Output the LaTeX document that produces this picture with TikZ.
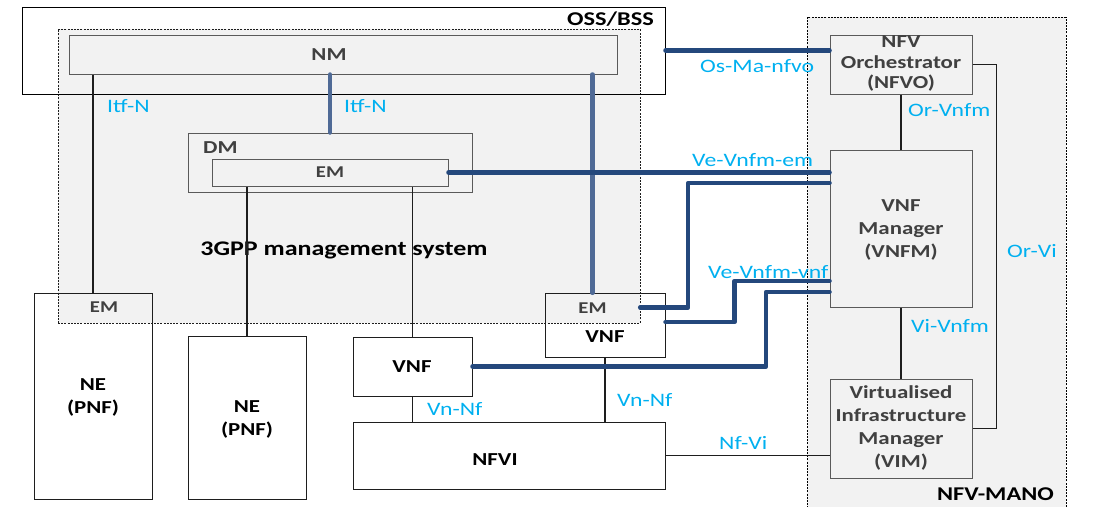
\documentclass[tikz,border=0pt]{standalone}
\usepackage{fontspec}
\setmainfont{Carlito}[FakeStretch=1.25]
\definecolor{panel}{RGB}{242,242,242}
\definecolor{boxline}{RGB}{90,90,90}
\definecolor{darkline}{RGB}{30,30,30}
\definecolor{boxtext}{RGB}{64,64,64}
\definecolor{lblcyan}{RGB}{0,176,240}
\definecolor{navy}{RGB}{36,72,124}
\definecolor{steel}{RGB}{79,106,150}
\begin{document}
\begin{tikzpicture}[x=1pt,y=-1pt,
  area/.style={draw=darkline, line width=0.8pt, dash pattern=on 2pt off 1.2pt, fill=panel},
  graybox/.style={draw=boxline, line width=1pt, fill=panel, inner sep=0pt},
  whitebox/.style={draw=darkline, line width=1pt, inner sep=0pt},
  hotspot/.style={draw=none, inner sep=0pt},
  gtext/.style={text=boxtext, font=\bfseries\fontsize{18.3}{23}\selectfont, align=center, inner sep=0pt},
  emtext/.style={text=boxtext, font=\bfseries\fontsize{16.5}{20}\selectfont, inner sep=0pt},
  btext/.style={text=black, font=\bfseries\fontsize{18.3}{23}\selectfont, align=center, inner sep=0pt},
  title/.style={text=black, font=\bfseries\fontsize{19.5}{23}\selectfont, inner sep=0pt},
  lbl/.style={text=lblcyan, font=\fontsize{19}{22}\selectfont, anchor=base west, inner sep=0pt},
  thinc/.style={draw=darkline, line width=1.7pt},
  steelc/.style={draw=steel, line width=4.5pt, line cap=round},
  navyc/.style={draw=navy, line width=4.5pt, line cap=round, line join=round},
]
\clip (0,0) rectangle (1099,506);

% dashed domains
\node[area, minimum width=582pt, minimum height=294pt] (mgmt) at (349,176) {};
\node[area, draw=black, minimum width=259pt, minimum height=503pt] (mano) at (936.5,268.5) {};

% OSS/BSS frame and 3GPP boxes
\node[whitebox, draw=black, minimum width=643pt, minimum height=87pt] (oss) at (343.5,50.5) {};
\node[graybox, minimum width=548pt, minimum height=39pt] (nm) at (343,54.5) {};
\node[graybox, minimum width=284pt, minimum height=59pt] (dm) at (330,162.5) {};
\node[graybox, minimum width=236pt, minimum height=27pt] (emdm) at (330,172.5) {};
\node[whitebox, minimum width=118pt, minimum height=206pt] (ne1) at (93,396) {};
\node[whitebox, minimum width=118pt, minimum height=163pt] (ne2) at (247,417.5) {};
\node[whitebox, minimum width=119pt, minimum height=59pt] (vnf1) at (412.5,366.5) {};
\node[whitebox, minimum width=120pt, minimum height=64pt] (vnf2) at (605,325) {};
\node[hotspot, minimum width=95pt, minimum height=29pt] (em2) at (592.5,307.5) {};
\node[whitebox, minimum width=312pt, minimum height=67pt] (nfvi) at (509,455.5) {};

% NFV-MANO blocks
\node[graybox, minimum width=142pt, minimum height=59pt] (nfvo) at (901,64.5) {};
\node[graybox, minimum width=142pt, minimum height=157pt] (vnfm) at (901,228.5) {};
\node[graybox, minimum width=142pt, minimum height=99pt] (vim) at (901,428.5) {};

% box texts
\node[gtext] (tnm) at (329,55) {NM};
\node[gtext, anchor=base west] (tdm) at (203,153) {DM};
\node[emtext] (temdm) at (330,172.5) {EM};
\node[emtext] (tem1) at (104,307) {EM};
\node[emtext] (tem2) at (592.5,308) {EM};
\node[btext] (tne1) at (93,397) {NE\\(PNF)};
\node[btext] (tne2) at (247,419) {NE\\(PNF)};
\node[btext] (tvnf1) at (412,366.5) {VNF};
\node[btext] (tvnf2) at (605,336.5) {VNF};
\node[btext] (tnfvi) at (495,460) {NFVI};
\node[gtext, font=\bfseries\fontsize{18.3}{20.5}\selectfont] (tnfvo) at (901,63.5) {NFV\\Orchestrator\\(NFVO)};
\node[gtext] (tvnfm) at (901,230) {VNF\\Manager\\(VNFM)};
\node[gtext] (tvim) at (901,428) {Virtualised\\Infrastructure\\Manager\\(VIM)};
\node[title, font=\bfseries\fontsize{20.8}{24}\selectfont, anchor=base] (t3gpp) at (344,255) {3GPP management system};
\node[title, anchor=base east] (toss) at (654,25) {OSS/BSS};
\node[title, anchor=base east] (tmano) at (1054,500) {NFV-MANO};

% thin reference points
\draw[thinc] (nm.south -| ne1.north) -- (ne1.north);
\draw[thinc] (emdm.south -| ne2.north) -- (ne2.north);
\draw[thinc] (emdm.south -| vnf1.north) -- (vnf1.north);
\draw[thinc] (vnf1.south) -- (vnf1.south |- nfvi.north);
\draw[thinc] (vnf2.south) -- (vnf2.south |- nfvi.north);
\draw[thinc] (nfvi.east) -- (nfvi.east -| vim.west);
\draw[thinc] (nfvo.south) -- (vnfm.north);
\draw[thinc] (vnfm.south) -- (vim.north);
\draw[thinc] (nfvo.east) -- ++(24,0) |- (vim.east);

% Itf-N towards the element managers
\draw[steelc] (nm.south -| dm.north) -- (dm.north);
\draw[steelc] (nm.south -| em2.north) -- (em2.north);

% Os-Ma-nfvo and Ve-Vnfm reference points
\draw[navyc] (oss.east) -- (oss.east -| nfvo.west);
\draw[navyc] (emdm.east) -- (emdm.east -| vnfm.west);
\draw[navyc] (em2.east) -- ++(48,0) |- ([yshift=45.5pt]vnfm.west);
\draw[navyc] ([yshift=3pt]vnf2.east) -- ++(69,0) |- ([yshift=-52.5pt]vnfm.west);
\draw[navyc] (vnf1.east) -- ++(293.5,0) |- ([yshift=-63.5pt]vnfm.west);

% interface labels
\node[lbl] (litf1) at (107,112) {Itf-N};
\node[lbl] (litf2) at (344,112) {Itf-N};
\node[lbl] (losma) at (700,72) {Os-Ma-nfvo};
\node[lbl] (lorvnfm) at (908,116) {Or-Vnfm};
\node[lbl] (lveem) at (692,166) {Ve-Vnfm-em};
\node[lbl] (lorvi) at (1007,257) {Or-Vi};
\node[lbl] (lvevnf) at (708,278) {Ve-Vnfm-vnf};
\node[lbl] (lvivnfm) at (911,332) {Vi-Vnfm};
\node[lbl] (lvnnf2) at (617,406) {Vn-Nf};
\node[lbl] (lvnnf1) at (427,415) {Vn-Nf};
\node[lbl] (lnfvi) at (719,449) {Nf-Vi};
\end{tikzpicture}
\end{document}
